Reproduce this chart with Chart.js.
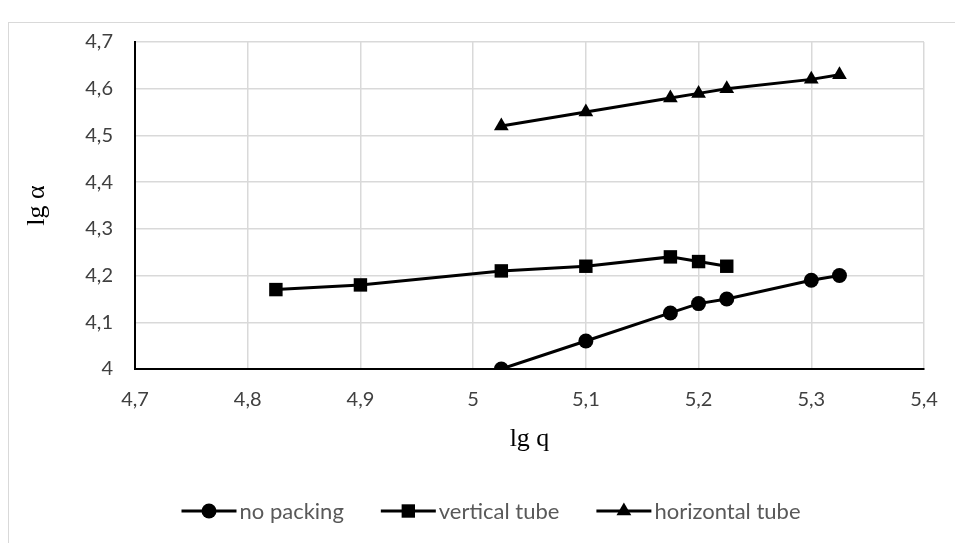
<!DOCTYPE html>
<html>
<head>
<meta charset="utf-8">
<script src="https://cdn.jsdelivr.net/npm/chart.js@4/dist/chart.umd.min.js"></script>
<style>
html,body{margin:0;padding:0;background:#fff;}
#wrap{width:955px;height:543px;position:relative;}
</style>
</head>
<body>
<div id="wrap"><canvas id="c" width="955" height="543"></canvas></div>
<script>
const seriesNames = ["no packing", "vertical tube", "horizontal tube"];
const noPackingX = [5.025, 5.1, 5.175, 5.2, 5.225, 5.3, 5.325];
const noPackingY = [4.0, 4.06, 4.12, 4.14, 4.15, 4.19, 4.2];
const verticalX = [4.825, 4.9, 5.025, 5.1, 5.175, 5.2, 5.225];
const verticalY = [4.17, 4.18, 4.21, 4.22, 4.24, 4.23, 4.22];
const horizontalX = [5.025, 5.1, 5.175, 5.2, 5.225, 5.3, 5.325];
const horizontalY = [4.52, 4.55, 4.58, 4.59, 4.60, 4.62, 4.63];
const xTicks = [4.7, 4.8, 4.9, 5.0, 5.1, 5.2, 5.3, 5.4];
const yTicks = [4.0, 4.1, 4.2, 4.3, 4.4, 4.5, 4.6, 4.7];
const xTitle = "lg q";
const yTitle = "lg α";

function pts(xs, ys){ return xs.map((x,i)=>({x:x, y:ys[i]})); }
function fmt(v){ return String(Number(v.toFixed(1))).replace('.', ','); }

const styles = ['circle','rect','triangle'];
const radii = [7.5, 9.5, 8.5];
const tickFont = {family:'Lato, "Open Sans", sans-serif', size:20};
const titleFont = {family:'"Liberation Serif", serif', size:26};
const legendFont = 'normal 22px Lato, "Open Sans", sans-serif';

function drawMarker(g, style, cx, cy){
  g.beginPath();
  if(style==='circle'){ g.arc(cx,cy,7.5,0,Math.PI*2); }
  else if(style==='rect'){ g.rect(cx-6.7,cy-6.7,13.4,13.4); }
  else { g.moveTo(cx,cy-8.5); g.lineTo(cx+7.4,cy+4.3); g.lineTo(cx-7.4,cy+4.3); g.closePath(); }
  g.fill();
}

const borderPlugin = {
  id:'outerBorder',
  beforeDraw(chart){
    const ctx = chart.ctx;
    ctx.save();
    ctx.strokeStyle = '#d9d9d9'; ctx.lineWidth = 1;
    ctx.strokeRect(8.5, 22.5, 1000, 600);
    ctx.restore();
  }
};

const legendPlugin = {
  id:'lineLegend',
  afterDraw(chart){
    const ctx = chart.ctx;
    ctx.save();
    ctx.font = legendFont;
    const iconW = 55, gapText = 3, gapItem = 37;
    const widths = chart.data.datasets.map(ds => iconW + gapText + ctx.measureText(ds.label).width);
    const total = widths.reduce((a,b)=>a+b,0) + gapItem*(widths.length-1);
    let x = 491 - total/2;
    const y = 511;
    chart.data.datasets.forEach((ds,i)=>{
      ctx.strokeStyle = ds.borderColor; ctx.lineWidth = 3;
      ctx.beginPath(); ctx.moveTo(x, y); ctx.lineTo(x+iconW, y); ctx.stroke();
      ctx.fillStyle = ds.pointBackgroundColor;
      drawMarker(ctx, styles[i], x+iconW/2, y);
      ctx.fillStyle = '#595959';
      ctx.textBaseline = 'middle'; ctx.textAlign = 'left';
      ctx.fillText(ds.label, x+iconW+gapText, y+1);
      x += widths[i] + gapItem;
    });
    ctx.restore();
  }
};

const datasets = [pts(noPackingX,noPackingY), pts(verticalX,verticalY), pts(horizontalX,horizontalY)].map((d,i)=>({
  label: seriesNames[i],
  data: d,
  showLine: true,
  borderColor:'#000',
  backgroundColor:'#000',
  borderWidth:3,
  pointStyle: styles[i],
  pointRadius: radii[i],
  pointHoverRadius: radii[i],
  pointBackgroundColor:'#000',
  pointBorderColor:'#000',
  pointBorderWidth:0,
  fill:false,
  tension:0
}));

new Chart(document.getElementById('c'), {
  type:'scatter',
  data:{datasets},
  plugins:[borderPlugin, legendPlugin],
  options:{
    responsive:false,
    animation:false,
    layout:{padding:{top:42,right:31,bottom:14,left:0}},
    plugins:{
      tooltip:{enabled:false},
      legend:{display:false}
    },
    scales:{
      x:{
        type:'linear', min:4.7, max:5.4,
        afterFit(s){ s.height = 160; s.paddingRight = 0; s.paddingLeft = 0; },
        afterBuildTicks(s){ s.ticks = xTicks.map(v=>({value:v})); },
        grid:{color:'#d9d9d9', lineWidth:1.5, drawTicks:false},
        border:{color:'#000', width:2},
        ticks:{padding:19, color:'#404040', callback:(v)=>fmt(v), font:tickFont},
        title:{display:true, text:xTitle, color:'#000', font:titleFont, padding:{top:4,bottom:74}}
      },
      y:{
        type:'linear', min:4.0, max:4.7,
        afterFit(s){ s.width = 135; },
        afterBuildTicks(s){ s.ticks = yTicks.map(v=>({value:v})); },
        grid:{color:'#d9d9d9', lineWidth:1.5, drawTicks:false},
        border:{color:'#000', width:2},
        ticks:{padding:22, color:'#404040', callback:(v)=>fmt(v), font:tickFont},
        title:{display:true, text:yTitle, color:'#000', font:titleFont, padding:{top:22,bottom:0}}
      }
    }
  }
});
</script>
</body>
</html>
